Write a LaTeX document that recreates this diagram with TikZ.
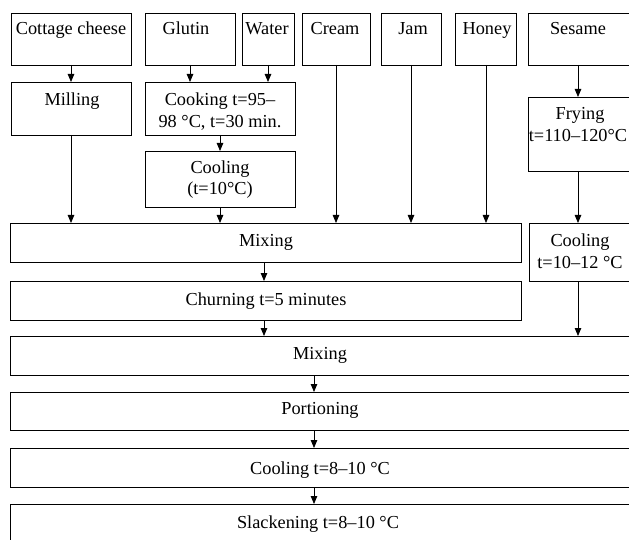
\documentclass[tikz,border=0pt]{standalone}
\usepackage{fontspec}
\setmainfont{Liberation Serif}
\usetikzlibrary{arrows.meta,calc}
\begin{document}
\begin{tikzpicture}[x=1pt,y=-1pt,
  box/.style={draw,line width=0.8pt,inner sep=0pt,outer sep=0pt},
  txt/.style={font=\fontsize{18.3}{22}\selectfont,inner sep=0pt,anchor=base},
  arr/.style={line width=0.8pt,-{Triangle[length=8pt,width=6.5pt]}}]
\useasboundingbox (0,0) rectangle (629,540);
% boxes
\node[box,minimum width=120,minimum height=52] (cottage) at (71,39) {};
\node[box,minimum width=90,minimum height=52] (glutin) at (190,39) {};
\node[box,minimum width=52,minimum height=52] (water) at (268,39) {};
\node[box,minimum width=68,minimum height=52] (cream) at (336,39) {};
\node[box,minimum width=60,minimum height=52] (jam) at (411,39) {};
\node[box,minimum width=61,minimum height=52] (honey) at (486,39) {};
\node[box,minimum width=112,minimum height=52] (sesame) at (584,39) {};
\node[box,minimum width=120,minimum height=53] (milling) at (71,108.5) {};
\node[box,minimum width=150,minimum height=53] (cooking) at (220,108.5) {};
\node[box,minimum width=150,minimum height=56] (coolten) at (220,179) {};
\node[box,minimum width=112,minimum height=74] (frying) at (584,134) {};
\node[box,minimum width=511,minimum height=39] (mixa) at (265.5,242.5) {};
\node[box,minimum width=111,minimum height=58] (coolr) at (584.5,252) {};
\node[box,minimum width=511,minimum height=39] (churn) at (265.5,300.5) {};
\node[box,minimum width=630,minimum height=39] (mixb) at (325,355.5) {};
\node[box,minimum width=630,minimum height=38] (portion) at (325,411) {};
\node[box,minimum width=630,minimum height=39] (coolfin) at (325,467.5) {};
\node[box,minimum width=630,minimum height=46] (slack) at (325,527) {};
% texts
\node[txt] (l1) at (71,35) {Cottage cheese};
\node[txt] (l2) at (186,35) {Glutin};
\node[txt] (l3) at (267,35) {Water};
\node[txt] (l4) at (335,35) {Cream};
\node[txt] (l5) at (413,35) {Jam};
\node[txt] (l6) at (487,35) {Honey};
\node[txt] (l7) at (578,35) {Sesame};
\node[txt] (l8) at (72,106) {Milling};
\node[txt] (l9) at (220,106) {Cooking t=95–};
\node[txt] (l10) at (220,128) {98 °C, t=30 min.};
\node[txt] (l11) at (220,174) {Cooling};
\node[txt] (l12) at (220,195) {(t=10°C)};
\node[txt] (l13) at (580,120) {Frying};
\node[txt] (l14) at (578,142) {t=110–120°C};
\node[txt] (l15) at (266,247) {Mixing};
\node[txt] (l16) at (580,246) {Cooling};
\node[txt] (l17) at (580,268) {t=10–12 °C};
\node[txt] (l18) at (266,305) {Churning t=5 minutes};
\node[txt] (l19) at (320,359) {Mixing};
\node[txt] (l20) at (320,414) {Portioning};
\node[txt] (l21) at (320,474) {Cooling t=8–10 °C};
\node[txt] (l22) at (318,528) {Slackening t=8–10 °C};
% helper coordinates
\coordinate (xa) at (264,0);
\coordinate (xb) at (314,0);
\coordinate (xs) at (578,0);
% arrows
\draw[arr] (cottage.south) -- (milling.north);
\draw[arr] (glutin.south) -- (glutin.south |- cooking.north);
\draw[arr] (water.south) -- (water.south |- cooking.north);
\draw[arr] (cooking.south) -- (coolten.north);
\draw[arr] (milling.south) -- (milling.south |- mixa.north);
\draw[arr] (coolten.south) -- (coolten.south |- mixa.north);
\draw[arr] (cream.south) -- (cream.south |- mixa.north);
\draw[arr] (jam.south) -- (jam.south |- mixa.north);
\draw[arr] (honey.south) -- (honey.south |- mixa.north);
\draw[arr] (sesame.south -| xs) -- (frying.north -| xs);
\draw[arr] (frying.south -| xs) -- (coolr.north -| xs);
\draw[arr] (mixa.south -| xa) -- (churn.north -| xa);
\draw[arr] (churn.south -| xa) -- (mixb.north -| xa);
\draw[arr] (coolr.south -| xs) -- (mixb.north -| xs);
\draw[arr] (mixb.south -| xb) -- (portion.north -| xb);
\draw[arr] (portion.south -| xb) -- (coolfin.north -| xb);
\draw[arr] (coolfin.south -| xb) -- (slack.north -| xb);
\end{tikzpicture}
\end{document}
